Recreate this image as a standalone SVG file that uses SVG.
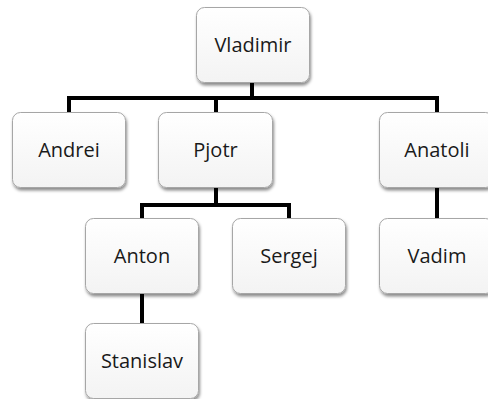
<svg xmlns="http://www.w3.org/2000/svg" width="488" height="399" viewBox="0 0 488 399">
  <defs>
    <linearGradient id="boxfill" x1="0" y1="0" x2="0" y2="1">
      <stop offset="0" stop-color="#ffffff"/>
      <stop offset="1" stop-color="#f3f3f3"/>
    </linearGradient>
    <filter id="shadow" x="-20%" y="-20%" width="140%" height="150%">
      <feDropShadow dx="1" dy="2.5" stdDeviation="1.8" flood-color="#000000" flood-opacity="0.45"/>
    </filter>
  </defs>
  <style>
    .box { fill: url(#boxfill); stroke: #a6a6a6; stroke-width: 1; filter: url(#shadow); }
    .label { font-family: "Open Sans", "Noto Sans", "Liberation Sans", sans-serif; font-size: 20px; fill: #1a1a1a; text-anchor: middle; }
    .conn { fill: none; stroke: #000000; stroke-width: 4; stroke-linejoin: miter; stroke-linecap: butt; }
  </style>
  <rect width="488" height="399" fill="#ffffff"/>
  <g id="connectors">
    <path class="conn" d="M252 83 V98"/>
    <path class="conn" d="M69 112 V98 H437 V112"/>
    <path class="conn" d="M216 98 V112"/>
    <path class="conn" d="M216 188 V205"/>
    <path class="conn" d="M142 218 V205 H289 V218"/>
    <path class="conn" d="M437 188 V218"/>
    <path class="conn" d="M142 294 V323"/>
  </g>
  <g id="vladimir">
    <rect class="box" x="196.5" y="7.5" width="113" height="75" rx="8"/>
    <text class="label" x="253" y="52">Vladimir</text>
  </g>
  <g id="andrei">
    <rect class="box" x="12.5" y="112.5" width="113" height="75" rx="8"/>
    <text class="label" x="69" y="157">Andrei</text>
  </g>
  <g id="pjotr">
    <rect class="box" x="158.5" y="112.5" width="114" height="75" rx="8"/>
    <text class="label" x="215.5" y="157">Pjotr</text>
  </g>
  <g id="anatoli">
    <rect class="box" x="379.5" y="112.5" width="114" height="75" rx="8"/>
    <text class="label" x="437" y="157">Anatoli</text>
  </g>
  <g id="anton">
    <rect class="box" x="85.5" y="218.5" width="113" height="75" rx="8"/>
    <text class="label" x="142" y="263">Anton</text>
  </g>
  <g id="sergej">
    <rect class="box" x="232.5" y="218.5" width="113" height="75" rx="8"/>
    <text class="label" x="289" y="263">Sergej</text>
  </g>
  <g id="vadim">
    <rect class="box" x="379.5" y="218.5" width="114" height="75" rx="8"/>
    <text class="label" x="437" y="263">Vadim</text>
  </g>
  <g id="stanislav">
    <rect class="box" x="85.5" y="323.5" width="113" height="75" rx="8"/>
    <text class="label" x="142" y="368">Stanislav</text>
  </g>
</svg>
